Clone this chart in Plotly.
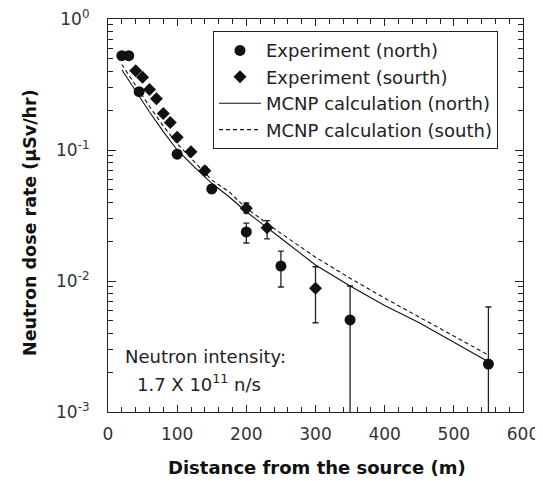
import plotly.graph_objects as go

# ---- data ----
north_x = [20, 30, 45, 100, 150, 200, 250, 350, 550]
north_y = [0.525, 0.525, 0.279, 0.093, 0.0504, 0.0237, 0.013, 0.00504, 0.00232]
north_hi = [0.525, 0.525, 0.279, 0.093, 0.054, 0.0277, 0.0169, 0.00916, 0.00633]
north_lo = [0.525, 0.525, 0.279, 0.093, 0.047, 0.0195, 0.009, 0.0001, 0.0001]

south_x = [40, 50, 60, 70, 80, 90, 100, 120, 140, 200, 230, 300]
south_y = [0.403, 0.359, 0.29, 0.246, 0.19, 0.162, 0.125, 0.097, 0.0695, 0.0359, 0.0255, 0.0088]
south_hi = [0.403, 0.359, 0.29, 0.246, 0.19, 0.162, 0.125, 0.097, 0.074, 0.0394, 0.0289, 0.01285]
south_lo = [0.403, 0.359, 0.29, 0.246, 0.19, 0.162, 0.125, 0.097, 0.065, 0.033, 0.021, 0.0048]

calc_x = [20, 40, 60, 80, 100, 125, 150, 175, 200, 250, 300, 350, 400, 450, 500, 550]
calc_north = [0.41, 0.28, 0.195, 0.138, 0.1, 0.074, 0.0557, 0.044, 0.0338, 0.0212,
              0.01325, 0.00916, 0.0065, 0.0048, 0.0034, 0.00242]
calc_south = [0.45, 0.31, 0.215, 0.152, 0.112, 0.081, 0.059, 0.048, 0.0359, 0.0231,
              0.0152, 0.0105, 0.0074, 0.0053, 0.0038, 0.00272]

y_tickvals = [1e-3, 1e-2, 1e-1, 1]
y_ticktext = ["10<sup>-3</sup>", "10<sup>-2</sup>", "10<sup>-1</sup>", "10<sup>0</sup>"]
y_minor = [m * d for d in (1e-3, 1e-2, 1e-1) for m in range(2, 10)]
x_tickvals = [0, 100, 200, 300, 400, 500, 600]
x_minor = [v for v in range(20, 600, 20) if v % 100]

FONT = "DejaVu Sans, sans-serif"
INK = "#111111"

fig = go.Figure()

fig.add_trace(go.Scatter(
    x=north_x, y=north_y, mode="markers", name="Experiment (north)",
    marker=dict(symbol="circle", size=11, color=INK),
    error_y=dict(type="data", symmetric=False,
                 array=[h - y for h, y in zip(north_hi, north_y)],
                 arrayminus=[y - l for l, y in zip(north_lo, north_y)],
                 color="#222", thickness=1.3, width=3),
))
fig.add_trace(go.Scatter(
    x=south_x, y=south_y, mode="markers", name="Experiment (sourth)",
    marker=dict(symbol="diamond", size=10, color=INK),
    error_y=dict(type="data", symmetric=False,
                 array=[h - y for h, y in zip(south_hi, south_y)],
                 arrayminus=[y - l for l, y in zip(south_lo, south_y)],
                 color="#222", thickness=1.3, width=3),
))
fig.add_trace(go.Scatter(
    x=calc_x, y=calc_north, mode="lines", name="MCNP calculation (north)",
    line=dict(color=INK, width=1.1),
))
fig.add_trace(go.Scatter(
    x=calc_x, y=calc_south, mode="lines", name="MCNP calculation (south)",
    line=dict(color=INK, width=1.1, dash="4px,3px"),
))

fig.add_annotation(xref="paper", yref="paper", x=0.036, y=0.14, xanchor="left",
                   yanchor="middle", showarrow=False,
                   text="Neutron intensity:", font=dict(size=18, color="#222", family=FONT))
fig.add_annotation(xref="paper", yref="paper", x=0.065, y=0.074, xanchor="left",
                   yanchor="middle", showarrow=False,
                   text="1.7 X 10<sup>11</sup> n/s", font=dict(size=18, color="#222", family=FONT))

# axis titles
fig.add_annotation(xref="paper", yref="paper", x=0.5036, y=-0.14, xanchor="center",
                   yanchor="middle", showarrow=False,
                   text="<b>Distance from the source (m)</b>",
                   font=dict(size=18, color=INK, family=FONT))
fig.add_annotation(xref="paper", yref="paper", x=-0.188, y=0.4835, xanchor="center",
                   yanchor="middle", showarrow=False, textangle=-90,
                   text="<b>Neutron dose rate (µSv/hr)</b>",
                   font=dict(size=17.5, color=INK, family=FONT))

axis_common = dict(
    showline=True, linecolor="#222", linewidth=1.2, mirror="ticks",
    ticks="inside", tickcolor="#222", showgrid=False, zeroline=False, automargin=False,
    ticklabeloverflow="allow",
    tickfont=dict(size=17, color="#333", family=FONT),
)

fig.update_xaxes(
    range=[0, 600], tickvals=x_tickvals, ticklen=7, ticklabelstandoff=6,
    minor=dict(ticks="inside", tickvals=x_minor, ticklen=5, tickcolor="#222", showgrid=False),
    **axis_common,
)
fig.update_yaxes(
    type="log", range=[-3, 0], tickvals=y_tickvals, ticktext=y_ticktext, ticklen=8,
    ticklabelstandoff=14,
    minor=dict(ticks="inside", tickvals=y_minor, ticklen=5, tickcolor="#222", showgrid=False),
    **axis_common,
)

# page body has an 8px default margin; figure offset accounts for it
fig.update_layout(
    width=535, height=473,
    margin=dict(l=100, r=20, t=11, b=69),
    paper_bgcolor="white", plot_bgcolor="white",
    font=dict(family=FONT, color=INK),
    showlegend=True,
    legend=dict(x=0.253, y=0.969, xanchor="left", yanchor="top",
                bgcolor="white", bordercolor="#222", borderwidth=1,
                font=dict(size=18, color="#222", family=FONT),
                tracegroupgap=0, itemwidth=42),
)

fig.write_html("out.html")
